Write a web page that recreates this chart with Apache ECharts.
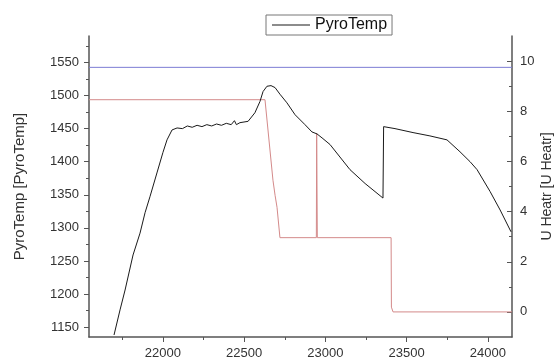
<!DOCTYPE html>
<html>
<head>
<meta charset="utf-8">
<script src="https://cdn.jsdelivr.net/npm/echarts@6/dist/echarts.min.js"></script>
<style>
  html, body { margin: 0; padding: 0; background: #fff; }
  #chart { width: 555px; height: 358px; }
</style>
</head>
<body>
<div id="chart"></div>
<script>
// PyroTemp trace (left axis)
const pyroX = [21699, 21736, 21767, 21816, 21859, 21890, 21920, 21963, 22000, 22025, 22056, 22087,
  22120, 22150, 22180, 22210, 22240, 22270, 22300, 22330, 22360, 22390, 22420, 22440, 22452, 22474,
  22524, 22566, 22597, 22616, 22640, 22665, 22690, 22720, 22763, 22813, 22874, 22917, 22948, 22979,
  23028, 23151, 23244, 23354, 23358, 23428, 23539, 23643, 23748, 23828, 23890, 23933, 24013, 24075, 24142];
const pyroY = [1138, 1176, 1206, 1259, 1292, 1323, 1347, 1383, 1414, 1433, 1448, 1451,
  1450, 1454, 1452, 1455, 1453, 1456, 1454, 1457, 1455, 1458, 1456, 1462, 1456, 1459,
  1461, 1474, 1491, 1506, 1514, 1515, 1512, 1502, 1489, 1471, 1456, 1445, 1442, 1436,
  1426, 1388, 1367, 1345, 1453, 1450, 1444, 1439, 1433, 1415, 1400, 1388, 1355, 1327, 1294];

// U_Heatr trace (right axis)
const heatX = [21545, 22628, 22677, 22690, 22702, 22720, 22944, 22946, 22950, 23404, 23406, 23416, 24148];
const heatY = [8.46, 8.46, 5.25, 4.65, 4.17, 2.96, 2.96, 7.12, 2.96, 2.96, 0.19, 0, 0];

// upper limit line (right axis)
const limitX = [21545, 24148];
const limitY = [9.75, 9.75];

const xMajor = [22000, 22500, 23000, 23500, 24000];
const xMinor = [21750, 22250, 22750, 23250, 23750];
const leftMajor = [1150, 1200, 1250, 1300, 1350, 1400, 1450, 1500, 1550];
const leftMinor = [1175, 1225, 1275, 1325, 1375, 1425, 1475, 1525, 1575];
const rightMajor = [0, 2, 4, 6, 8, 10];
const rightMinor = [1, 3, 5, 7, 9];

const pairs = (xs, ys) => xs.map((x, i) => [x, ys[i]]);

const axisColor = '#555';
const font = 'Liberation Sans, Arial, sans-serif';
const labelStyle = { color: '#333', fontSize: 13, fontFamily: font, formatter: (v) => String(v) };

const chart = echarts.init(document.getElementById('chart'));

chart.setOption({
  animation: false,
  backgroundColor: '#fff',
  grid: { left: 89, right: 43, top: 36, bottom: 21, outerBoundsMode: 'none' },
  legend: {
    left: 266,
    top: 15,
    data: ['PyroTemp'],
    icon: 'rect',
    itemWidth: 38,
    itemHeight: 1,
    itemGap: 5,
    padding: [2, 5, 2, 6],
    borderColor: '#777',
    borderWidth: 1,
    borderRadius: 0,
    textStyle: { color: '#111', fontSize: 16, fontFamily: font },
  },
  xAxis: [
    {
      type: 'value',
      min: 21545,
      max: 24148,
      position: 'bottom',
      splitLine: { show: false },
      axisLine: { show: true, onZero: false, lineStyle: { color: axisColor, width: 1.5 } },
      axisTick: { show: true, length: 5, customValues: xMajor, lineStyle: { color: axisColor } },
      axisLabel: { ...labelStyle, margin: 10, customValues: xMajor },
    },
    {
      type: 'value',
      min: 21545,
      max: 24148,
      position: 'bottom',
      splitLine: { show: false },
      axisLine: { show: false, onZero: false },
      axisTick: { show: true, length: 3, customValues: xMinor, lineStyle: { color: axisColor } },
      axisLabel: { show: false },
    },
  ],
  yAxis: [
    {
      type: 'value',
      position: 'left',
      min: 1135,
      max: 1590,
      name: 'PyroTemp [PyroTemp]',
      nameLocation: 'middle',
      nameRotate: 90,
      nameGap: 62,
      nameTextStyle: { color: '#333', fontSize: 15, fontFamily: font },
      splitLine: { show: false },
      axisLine: { show: true, onZero: false, lineStyle: { color: axisColor, width: 1.5 } },
      axisTick: { show: true, length: 5, customValues: leftMajor, lineStyle: { color: axisColor } },
      axisLabel: { ...labelStyle, margin: 10, customValues: leftMajor },
    },
    {
      type: 'value',
      position: 'right',
      min: -1,
      max: 11,
      name: 'U Heatr [U Heatr]',
      nameLocation: 'middle',
      nameRotate: 90,
      nameGap: 28,
      nameMoveOverlap: false,
      nameTextStyle: { color: '#333', fontSize: 14, fontFamily: font },
      splitLine: { show: false },
      axisLine: { show: true, onZero: false, lineStyle: { color: axisColor, width: 1.5 } },
      axisTick: { show: true, inside: true, length: 5, customValues: rightMajor, lineStyle: { color: axisColor } },
      axisLabel: { ...labelStyle, margin: 8, customValues: rightMajor },
    },
    {
      type: 'value',
      position: 'left',
      min: 1135,
      max: 1590,
      splitLine: { show: false },
      axisLine: { show: false, onZero: false },
      axisTick: { show: true, length: 3, customValues: leftMinor, lineStyle: { color: axisColor } },
      axisLabel: { show: false },
    },
    {
      type: 'value',
      position: 'right',
      min: -1,
      max: 11,
      splitLine: { show: false },
      axisLine: { show: false, onZero: false },
      axisTick: { show: true, inside: true, length: 3, customValues: rightMinor, lineStyle: { color: axisColor } },
      axisLabel: { show: false },
    },
  ],
  series: [
    {
      name: 'Limit',
      type: 'line',
      yAxisIndex: 1,
      data: pairs(limitX, limitY),
      showSymbol: false,
      itemStyle: { color: '#7c7cd4' },
      lineStyle: { color: '#7c7cd4', width: 1 },
      silent: true,
    },
    {
      name: 'U Heatr',
      type: 'line',
      yAxisIndex: 1,
      data: pairs(heatX, heatY),
      showSymbol: false,
      itemStyle: { color: '#d48a8a' },
      lineStyle: { color: '#d48a8a', width: 1 },
      silent: true,
    },
    {
      name: 'PyroTemp',
      type: 'line',
      yAxisIndex: 0,
      data: pairs(pyroX, pyroY),
      showSymbol: false,
      itemStyle: { color: '#1a1a1a' },
      lineStyle: { color: '#1a1a1a', width: 1 },
      silent: true,
    },
  ],
});
</script>
</body>
</html>
